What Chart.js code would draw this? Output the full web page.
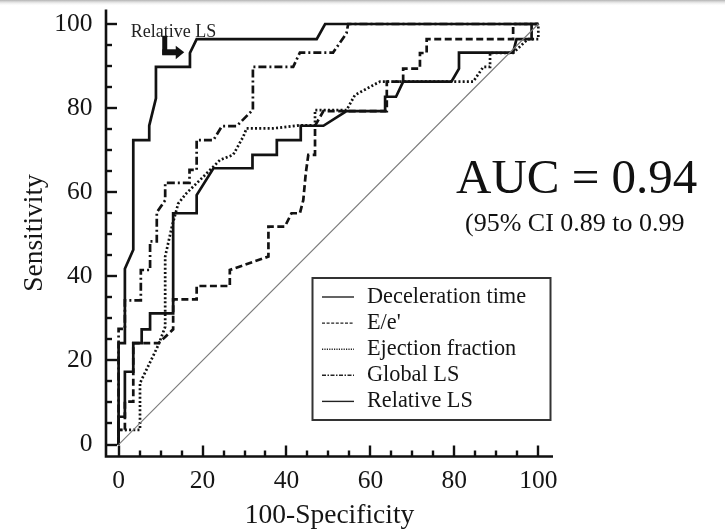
<!DOCTYPE html>
<html><head><meta charset="utf-8">
<script src="https://cdn.jsdelivr.net/npm/chart.js@4"></script>
<style>html,body{margin:0;padding:0;background:#fff}</style>
</head><body>
<canvas id="c" width="725" height="531"></canvas>
<script>
const FONT = '"Liberation Serif", "Times New Roman", serif';

// ---- data ----
const seriesLabels = ['Deceleration time', "E/e'", 'Ejection fraction', 'Global LS', 'Relative LS'];

const decelFpr = [0,0,1.5,1.5,3.5,3.5,5.5,5.5,7.5,7.5,13,13,18.6,18.6,22.6,31.9,31.9,37.7,37.7,43.4,43.4,48.8,54.3,63.5,63.5,66.1,67.8,79.3,81.1,81.1,94.0,94.8,98.4,98.4,100];
const decelTpr = [0,6.6,6.6,17.3,17.3,24.1,24.1,27.4,27.4,31.2,31.2,55.0,55.0,59.3,65.7,65.7,68.9,68.9,72.4,72.4,75.8,75.8,79.3,79.3,82.7,82.7,86.3,86.3,89.4,93.2,93.2,96.4,96.4,100,100];

const eeFpr = [0,0,1.5,1.5,3.5,3.5,9.5,13,13,18.6,18.6,26.5,26.5,35.7,35.7,39.6,41.2,43.2,44.0,44.6,45.2,46.8,46.8,48.8,63.9,63.9,67.8,67.8,71.8,71.8,73.4,73.4,94.0,94.0,100];
const eeTpr = [0,3.5,3.5,10.2,10.2,24.1,24.1,27.4,34.5,34.5,37.7,37.7,41.5,44.7,51.8,51.8,55.0,55.0,58.1,64.5,68.9,68.9,75.8,79.3,79.3,86.3,86.3,89.4,89.4,93.1,93.1,96.4,96.4,100,100];

const efFpr = [0,0,5.1,5.1,9.5,11.1,11.1,12.7,14.2,16.2,19.4,24.2,27.3,29.7,30.5,36.9,43.2,46.8,46.8,54.3,56.3,61.5,62.3,84.5,86.9,88.5,88.5,94.0,97.5,100,100];
const efTpr = [0,3.5,3.5,14.6,23.7,28.0,44.7,51.8,57.3,59.8,62.9,67.7,68.9,73.2,75.2,75.2,75.9,75.9,79.5,79.5,83.1,85.9,86.3,86.3,89.8,89.8,93.1,93.1,96.4,96.4,100];

const glsFpr = [0,0,1.5,1.5,5.3,5.3,7.5,7.5,9.1,9.1,11.1,11.1,16.9,16.9,18.6,18.6,22.6,24.6,28.1,32.0,32.0,41.6,43.2,51.1,54.3,54.7,100];
const glsTpr = [0,27.5,27.5,34.3,34.3,41.5,41.5,48.3,48.3,55.2,58.1,62.2,62.2,65.3,65.3,72.4,72.4,75.7,75.7,79.6,89.8,89.8,93.2,93.2,97.8,100,100];

const rlsFpr = [0,0,1.5,1.5,3.5,3.5,7.3,7.3,8.9,8.9,17.0,17.0,18.6,47.2,49.2,100];
const rlsTpr = [0,24.1,24.1,41.8,46.3,72.4,72.4,75.8,82.3,89.8,89.8,93.1,96.4,96.4,100,100];

const refFpr = [0, 100];
const refTpr = [0, 100];

const tickValues = [0, 20, 40, 60, 80, 100];
const minorStep = 5;
const aucText = 'AUC = 0.94';
const ciText = '(95% CI 0.89 to 0.99';
const calloutText = 'Relative LS';

const pts = (xs, ys) => xs.map((x, i) => ({x, y: ys[i]}));

const styles = [
  {dash: [], legendDash: []},
  {dash: [7, 3.5], legendDash: [3, 1.6]},
  {dash: [2, 2.2], legendDash: [1.2, 1.2]},
  {dash: [8, 3, 2, 3], legendDash: [4, 1.5, 1.5, 1.5]},
  {dash: [], legendDash: []}
];
const series = [[decelFpr, decelTpr], [eeFpr, eeTpr], [efFpr, efTpr], [glsFpr, glsTpr], [rlsFpr, rlsTpr]];

const datasets = series.map((s, i) => ({
  label: seriesLabels[i],
  data: pts(s[0], s[1]),
  borderColor: '#121212',
  borderWidth: 2.7,
  borderDash: styles[i].dash,
  legendDash: styles[i].legendDash,
  pointRadius: 0,
  tension: 0,
  fill: false,
  clip: false
}));
datasets.unshift({
  label: '_ref',
  data: pts(refFpr, refTpr),
  borderColor: '#7a7a7a',
  borderWidth: 1.1,
  pointRadius: 0,
  tension: 0,
  fill: false,
  isRef: true
});

const bgPlugin = {
  id: 'bgPlugin',
  beforeDraw(chart) {
    const {ctx, width} = chart;
    ctx.save();
    const g = ctx.createLinearGradient(0, 0, 0, 6);
    g.addColorStop(0, 'rgba(170,170,170,0.9)');
    g.addColorStop(1, 'rgba(255,255,255,0)');
    ctx.fillStyle = g;
    ctx.fillRect(0, 0, width, 6);
    ctx.restore();
  }
};

const axesPlugin = {
  id: 'axesPlugin',
  afterDraw(chart) {
    const {ctx, chartArea: a, scales: {x, y}} = chart;
    ctx.save();
    ctx.strokeStyle = '#111';
    ctx.lineWidth = 2.6;
    ctx.lineCap = 'butt';
    ctx.beginPath();
    ctx.moveTo(a.left, a.top);
    ctx.lineTo(a.left, a.bottom);
    ctx.lineTo(a.right, a.bottom);
    ctx.stroke();
    ctx.lineWidth = 2.4;
    for (let v = 0; v <= 100; v += minorStep) {
      const major = v % 20 === 0;
      const len = major ? 11 : 6;
      const py = Math.round(y.getPixelForValue(v));
      ctx.beginPath(); ctx.moveTo(a.left, py); ctx.lineTo(a.left + len, py); ctx.stroke();
      const px = Math.round(x.getPixelForValue(v));
      ctx.beginPath(); ctx.moveTo(px, a.bottom); ctx.lineTo(px, a.bottom - len); ctx.stroke();
    }
    ctx.restore();
  }
};

const annoPlugin = {
  id: 'annoPlugin',
  afterDraw(chart) {
    const {ctx, scales: {x, y}} = chart;
    ctx.save();
    // legend
    const bx = 312.5, by = 278, bw = 238, bh = 142;
    ctx.fillStyle = '#fff';
    ctx.fillRect(bx, by, bw, bh);
    ctx.strokeStyle = '#333';
    ctx.lineWidth = 2;
    ctx.strokeRect(bx, by, bw, bh);
    ctx.font = '22.3px ' + FONT;
    ctx.textBaseline = 'middle';
    ctx.textAlign = 'left';
    ctx.fillStyle = '#151515';
    const ds = chart.data.datasets.filter(d => !d.isRef);
    ds.forEach((d, i) => {
      const ly = 297 + i * 26.1;
      ctx.setLineDash(d.legendDash || []);
      ctx.lineWidth = 1.4;
      ctx.strokeStyle = '#222';
      ctx.beginPath(); ctx.moveTo(322, ly); ctx.lineTo(354, ly); ctx.stroke();
      ctx.setLineDash([]);
      ctx.fillText(d.label, 367, ly);
    });
    // AUC text
    ctx.textBaseline = 'alphabetic';
    ctx.fillStyle = '#111';
    ctx.font = '49px ' + FONT;
    ctx.fillText(aucText, 456, 193);
    ctx.font = '26px ' + FONT;
    ctx.fillText(ciText, 465, 231);
    // callout
    ctx.font = '18px ' + FONT;
    ctx.fillStyle = '#222';
    ctx.fillText(calloutText, x.getPixelForValue(2.9), y.getPixelForValue(98.4) + 6);
    const ax = x.getPixelForValue(10.4), ay = y.getPixelForValue(97.2);
    ctx.fillStyle = '#111';
    ctx.fillRect(ax, ay, 5, 19);
    ctx.fillRect(ax, ay + 13.5, 15, 6);
    ctx.beginPath();
    ctx.moveTo(ax + 13.5, ay + 10);
    ctx.lineTo(ax + 22, ay + 16.5);
    ctx.lineTo(ax + 13.5, ay + 23.5);
    ctx.closePath();
    ctx.fill();
    ctx.restore();
  }
};

new Chart(document.getElementById('c'), {
  type: 'line',
  data: {datasets},
  options: {
    responsive: false,
    animation: false,
    events: [],
    layout: {padding: {left: 0, right: 172, top: 9.5, bottom: 0}},
    plugins: {legend: {display: false}, tooltip: {enabled: false}},
    scales: {
      x: {
        type: 'linear', min: -3, max: 103.5,
        grid: {display: false, drawTicks: false},
        border: {display: false},
        afterBuildTicks: s => { s.ticks = tickValues.map(v => ({value: v})); },
        afterFit: s => { s.height = 74.5; s.paddingLeft = 0; s.paddingRight = 0; },
        ticks: {padding: 12, color: '#151515', font: {family: FONT, size: 25.5, lineHeight: 1}, maxRotation: 0, autoSkip: false},
        title: {display: true, text: '100-Specificity', color: '#151515', font: {family: FONT, size: 27.5, lineHeight: 1}, padding: {top: 0, bottom: 1}}
      },
      y: {
        type: 'linear', min: -2.85, max: 103.45,
        grid: {display: false, drawTicks: false},
        border: {display: false},
        afterBuildTicks: s => { s.ticks = tickValues.map(v => ({value: v})); },
        afterFit: s => { s.width = 106; s.paddingTop = 0; s.paddingBottom = 0; },
        ticks: {padding: 13.5, color: '#151515', font: {family: FONT, size: 25.5, lineHeight: 1}, autoSkip: false},
        title: {display: true, text: 'Sensitivity', color: '#151515', font: {family: FONT, size: 27.5, lineHeight: 1}, padding: {top: 21, bottom: 0}}
      }
    }
  },
  plugins: [bgPlugin, axesPlugin, annoPlugin]
});
</script>
</body></html>
